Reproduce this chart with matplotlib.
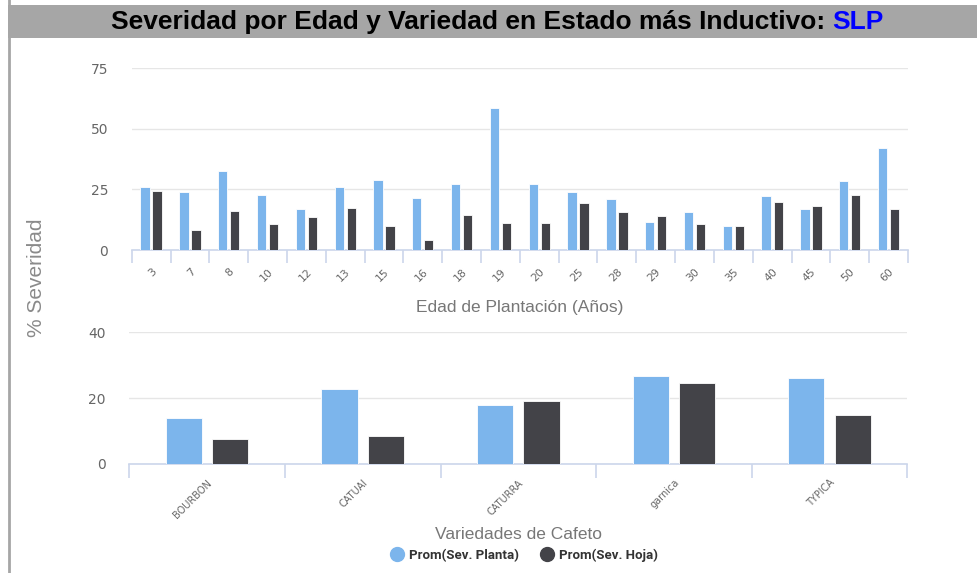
import matplotlib
matplotlib.use("Agg")
import matplotlib.pyplot as plt
import numpy as np
from matplotlib.lines import Line2D
from matplotlib.patches import Rectangle

# ---------------- data ----------------
edades = ["3", "7", "8", "10", "12", "13", "15", "16", "18", "19",
          "20", "25", "28", "29", "30", "35", "40", "45", "50", "60"]
edad_planta = [26.1, 23.8, 32.5, 22.7, 16.9, 26.2, 29.1, 21.6, 27.3, 58.8,
               27.3, 23.8, 20.9, 11.5, 15.7, 9.9, 22.1, 16.9, 28.4, 41.9]
edad_hoja = [24.4, 8.1, 16.3, 10.6, 13.5, 17.4, 9.9, 4.0, 14.6, 11.0,
             11.0, 19.2, 15.7, 14.0, 10.6, 9.9, 19.8, 18.0, 22.7, 16.9]

variedades = ["BOURBON", "CATUAI", "CATURRA", "garnica", "TYPICA"]
var_planta = [13.9, 22.6, 17.9, 26.7, 26.2]
var_hoja = [7.5, 8.5, 19.0, 24.5, 14.7]

top_yticks = [0, 25, 50, 75]
bot_yticks = [0, 20, 40]

BLUE = "#7cb5ec"
DARK = "#434348"
AXIS = "#ccd6eb"
GRID = "#e6e6e6"
TXT = "#666666"

W, H = 977, 573
fig = plt.figure(figsize=(W / 100, H / 100), dpi=100)
fig.patch.set_facecolor("white")


def ax_px(x0, y0, x1, y1):
    return fig.add_axes([x0 / W, 1 - y1 / H, (x1 - x0) / W, (y1 - y0) / H])


# ---- title band and left border ----
fig.add_artist(Rectangle((8 / W, 1 - 38 / H), (W - 8) / W, 33 / H,
                         transform=fig.transFigure, facecolor="#a6a6a6",
                         edgecolor="none", zorder=0))
fig.add_artist(Line2D([9 / W, 9 / W], [0, 1], transform=fig.transFigure,
                      color="#a6a6a6", lw=2, zorder=1))

renderer = fig.canvas.get_renderer()
tfont = dict(family=["Liberation Sans", "DejaVu Sans"], weight="bold", size=19)
t1 = fig.text(0, 0, "Severidad por Edad y Variedad en Estado más Inductivo: ",
              color="black", **tfont)
t2 = fig.text(0, 0, "SLP", color="#0000ff", **tfont)
w1 = t1.get_window_extent(renderer).width
w2 = t2.get_window_extent(renderer).width
cx = 497.5
start = cx - (w1 + w2) / 2
ty = 1 - 22 / H
t1.set_position((start / W, ty)); t1.set_va("center")
t2.set_position(((start + w1) / W, ty)); t2.set_va("center")


def style(ax, cats, yticks, ylim, label_size, label_pad, tick_len):
    n = len(cats)
    ax.set_xlim(-0.5, n - 0.5)
    ax.set_ylim(*ylim)
    for s in ["top", "right", "left"]:
        ax.spines[s].set_visible(False)
    ax.spines["bottom"].set_color(AXIS)
    ax.spines["bottom"].set_linewidth(1.2)
    ax.set_yticks(yticks)
    ax.tick_params(axis="y", length=0, pad=17, labelsize=10, labelcolor=TXT)
    ax.yaxis.grid(True, color=GRID, lw=1)
    ax.set_axisbelow(True)
    ax.set_xticks(np.arange(n + 1) - 0.5)
    ax.set_xticklabels([])
    ax.tick_params(axis="x", which="major", length=tick_len, color=AXIS, width=1.2)
    ax.set_xticks(np.arange(n), minor=True)
    ax.set_xticklabels(cats, minor=True, rotation=45, ha="right",
                       rotation_mode="anchor", fontsize=label_size, color=TXT)
    ax.tick_params(axis="x", which="minor", length=0, pad=label_pad)


# ---- top chart ----
ax1 = ax_px(131.7, 68.3, 908, 250)
x = np.arange(len(edades))
bw, off = 0.24, 0.155
ax1.bar(x - off, edad_planta, bw, color=BLUE, edgecolor="white", lw=0.6, zorder=3)
ax1.bar(x + off, edad_hoja, bw, color=DARK, edgecolor="white", lw=0.6, zorder=3)
style(ax1, edades, top_yticks, (0, 75), 7.8, 12, 9)
ax1.set_xlabel("Edad de Plantación (Años)", fontsize=12.5, color="#777777",
               family=["Liberation Sans", "DejaVu Sans"], labelpad=12)

# ---- bottom chart ----
ax2 = ax_px(129.3, 332.3, 907.3, 463.7)
x2 = np.arange(len(variedades))
bw2, off2 = 0.232, 0.149
ax2.bar(x2 - off2, var_planta, bw2, color=BLUE, edgecolor="white", lw=0.6, zorder=3)
ax2.bar(x2 + off2, var_hoja, bw2, color=DARK, edgecolor="white", lw=0.6, zorder=3)
style(ax2, variedades, bot_yticks, (0, 40), 7, 10, 10)
ax2.set_xlabel("Variedades de Cafeto", fontsize=12.5, color="#777777",
               family=["Liberation Sans", "DejaVu Sans"], labelpad=5)

# ---- shared y label ----
fig.text(36 / W, 1 - 278 / H, "% Severidad", rotation=90, ha="center", va="center",
         fontsize=15, color="#8a8a8a", family=["Liberation Sans", "DejaVu Sans"])

# ---- legend ----
handles = [Line2D([], [], marker="o", ls="none", color=BLUE, markersize=10),
           Line2D([], [], marker="o", ls="none", color=DARK, markersize=10)]
leg = fig.legend(handles, ["Prom(Sev. Planta)", "Prom(Sev. Hoja)"], ncol=2,
                 loc="center", bbox_to_anchor=(524 / W, 1 - 555 / H), frameon=False,
                 handletextpad=0.4, columnspacing=1.6, handlelength=1.0,
                 prop=dict(family=["Roboto", "DejaVu Sans"],
                           weight="bold", size=9.5))
for t in leg.get_texts():
    t.set_color("#333333")

fig.savefig("out.png", dpi=100, facecolor="white")
